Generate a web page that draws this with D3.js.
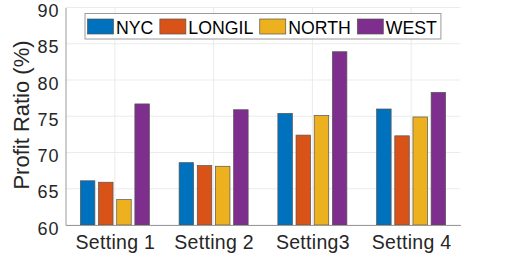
<!DOCTYPE html>
<html>
<head>
<meta charset="utf-8">
<script src="https://cdn.jsdelivr.net/npm/d3@7"></script>
<style>
  body { margin: 0; background: #fff; }
  svg { display: block; font-family: "Liberation Sans", Arial, sans-serif; }
</style>
</head>
<body>
<svg id="chart" width="509" height="257"></svg>
<script>
// Chart data
const settings = ["Setting 1", "Setting 2", "Setting3", "Setting 4"];
const regions = ["NYC", "LONGIL", "NORTH", "WEST"];
const colors = ["#0072BD", "#D95319", "#EDB120", "#7E2F8E"];
const nycValues = [66.1, 68.6, 75.4, 76.0];
const longilValues = [65.9, 68.2, 72.4, 72.3];
const northValues = [63.5, 68.1, 75.1, 74.9];
const westValues = [76.7, 75.9, 83.9, 78.3];
const yTicks = [60, 65, 70, 75, 80, 85, 90];

const series = [nycValues, longilValues, northValues, westValues];

const svg = d3.select("#chart");
const textColor = "#262626";

// Scales (categories at 1..4, xlim 0.5..4.5)
const x = d3.scaleLinear().domain([0.5, 4.5]).range([65.5, 460.5]);
const y = d3.scaleLinear().domain([60, 90]).range([225, 7.5]);

// Gridlines
svg.append("g")
    .selectAll("line.hgrid")
    .data(yTicks)
    .enter()
    .append("line")
    .attr("x1", x(0.5))
    .attr("x2", x(4.5))
    .attr("y1", d => y(d))
    .attr("y2", d => y(d))
    .attr("stroke", "#ebebeb")
    .attr("stroke-width", 1);

svg.append("g")
    .selectAll("line.vgrid")
    .data(settings)
    .enter()
    .append("line")
    .attr("x1", (d, i) => x(i + 1))
    .attr("x2", (d, i) => x(i + 1))
    .attr("y1", y(60))
    .attr("y2", y(90))
    .attr("stroke", "#ebebeb")
    .attr("stroke-width", 1);

// Bars
const step = 0.184;
const barWidth = 0.147;
series.forEach(function(values, s) {
    svg.append("g")
        .selectAll("rect")
        .data(values)
        .enter()
        .append("rect")
        .attr("x", (d, i) => x(i + 1 + (s - 1.5) * step - barWidth / 2))
        .attr("width", x(barWidth) - x(0))
        .attr("y", d => y(d))
        .attr("height", d => y(60) - y(d))
        .attr("fill", colors[s])
        .attr("stroke", "#555")
        .attr("stroke-width", 0.7);
});

// Axes
const yAxis = svg.append("g")
    .attr("transform", `translate(${x(0.5)},0)`)
    .call(d3.axisLeft(y).tickValues(yTicks).tickSize(0).tickPadding(6));
yAxis.select(".domain").attr("stroke", "#9a9a9a");
yAxis.selectAll("text")
    .attr("font-family", "Liberation Sans, Arial, sans-serif")
    .style("font-size", "18px")
    .attr("dy", "0.5em")
    .attr("fill", textColor)
    .attr("letter-spacing", "1px");

const xAxis = svg.append("g")
    .attr("transform", `translate(0,${y(60)})`)
    .call(d3.axisBottom(x).tickValues([1, 2, 3, 4]).tickSize(0).tickPadding(10)
        .tickFormat((d, i) => settings[i]));
xAxis.select(".domain").attr("stroke", "#9a9a9a");
xAxis.selectAll("text")
    .attr("font-family", "Liberation Sans, Arial, sans-serif")
    .style("font-size", "19.5px")
    .attr("fill", textColor)
    .attr("letter-spacing", "0.3px");

// Y label
svg.append("text")
    .attr("transform", "rotate(-90)")
    .attr("x", -115)
    .attr("y", 29)
    .attr("text-anchor", "middle")
    .style("font-size", "22px")
    .attr("fill", textColor)
    .text("Profit Ratio (%)");

// Legend
const legend = svg.append("g");
const legendBox = legend.append("rect")
    .attr("x", 85)
    .attr("y", 13.5)
    .attr("height", 25.5)
    .attr("fill", "#fff")
    .attr("stroke", "#9a9a9a")
    .attr("stroke-width", 1);

let lx = 87.5;
regions.forEach(function(name, i) {
    legend.append("rect")
        .attr("x", lx)
        .attr("y", 19)
        .attr("width", 26)
        .attr("height", 15)
        .attr("fill", colors[i])
        .attr("stroke", "#555")
        .attr("stroke-width", 0.7);
    const t = legend.append("text")
        .attr("x", lx + 28.5)
        .attr("y", 34)
        .style("font-size", "17.7px")
        .attr("fill", "#000")
        .text(name);
    lx = lx + 28.5 + t.node().getComputedTextLength() + 6.5;
});
legendBox.attr("width", lx - 85 - 2.5);
</script>
</body>
</html>
